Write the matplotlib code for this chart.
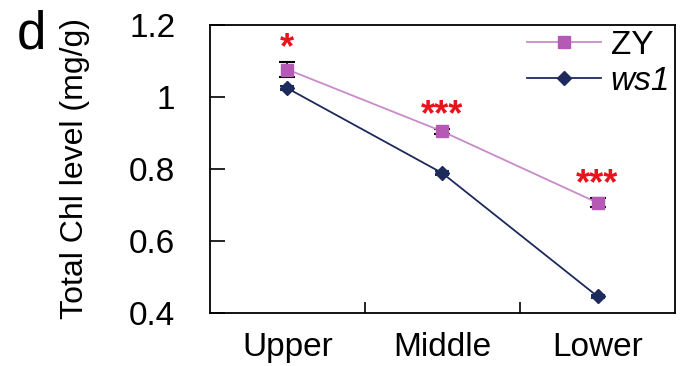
import matplotlib.pyplot as plt
from matplotlib.lines import Line2D
from matplotlib.ticker import FixedLocator, NullFormatter

plt.rcParams['font.family'] = ['Liberation Sans', 'DejaVu Sans']

categories = ['Upper', 'Middle', 'Lower']
zy_mean = [1.076, 0.904, 0.706]
zy_err = [0.022, 0.006, 0.013]
ws1_mean = [1.024, 0.788, 0.446]
ws1_err = [0.006, 0.005, 0.005]
stars = ['*', '***', '***']
yticks = [0.4, 0.6, 0.8, 1.0, 1.2]
ytick_labels = ['0.4', '0.6', '0.8', '1', '1.2']

zy_line = '#c98ac9'
zy_marker = '#b45ab4'
ws1_color = '#1c2a5c'

fig = plt.figure(figsize=(6.86, 3.66), dpi=100)
ax = fig.add_axes([0.306, 0.145, 0.678, 0.787])

x = [i + 0.5 for i in range(len(categories))]

ax.errorbar(x, zy_mean, yerr=zy_err, color=zy_line, marker='s', markersize=8,
            markerfacecolor=zy_marker, markeredgecolor=zy_marker, linewidth=1.3,
            ecolor='black', elinewidth=1.2, capsize=6, capthick=1.5, zorder=3)
ax.errorbar(x, ws1_mean, yerr=ws1_err, color=ws1_color, marker='D', markersize=7,
            markerfacecolor=ws1_color, markeredgecolor=ws1_color, linewidth=1.3,
            ecolor=ws1_color, elinewidth=1.2, capsize=5, capthick=1.5, zorder=3)

for xi, m, e, s in zip(x, zy_mean, zy_err, stars):
    ax.annotate(s, xy=(xi, m + e), xytext=(0, -3), textcoords='offset points',
                ha='center', va='bottom', color='#e8141b', fontsize=26, fontweight='bold')

ax.set_xlim(0, 3)
ax.set_ylim(0.4, 1.2)
ax.xaxis.set_major_locator(FixedLocator([1, 2]))
ax.xaxis.set_major_formatter(NullFormatter())
ax.xaxis.set_minor_locator(FixedLocator(x))
ax.set_xticklabels(categories, minor=True)
ax.tick_params(axis='x', which='major', direction='in', length=8, width=1.2)
ax.tick_params(axis='x', which='minor', length=0, pad=14, labelsize=24)

ax.set_yticks(yticks)
ax.set_yticklabels(ytick_labels)
ax.tick_params(axis='y', direction='in', length=11, width=1.2, pad=25, labelsize=24)

for sp in ax.spines.values():
    sp.set_linewidth(1.3)

ax.set_ylabel('Total Chl level (mg/g)', fontsize=23, labelpad=28)

handles = [
    Line2D([], [], color=zy_line, marker='s', markersize=8, markerfacecolor=zy_marker,
           markeredgecolor=zy_marker, linewidth=1.3),
    Line2D([], [], color=ws1_color, marker='D', markersize=7, markerfacecolor=ws1_color,
           markeredgecolor=ws1_color, linewidth=1.3),
]
leg = ax.legend(handles, ['ZY', 'ws1'], loc='upper right', frameon=False, fontsize=24,
                handlelength=2.2, handletextpad=0.3, labelspacing=0.15,
                borderaxespad=0.05, borderpad=0.1)
leg.get_texts()[1].set_fontstyle('italic')

fig.text(0.025, 0.975, 'd', fontsize=38, va='top', ha='left')

fig.savefig('out.png', dpi=100)
